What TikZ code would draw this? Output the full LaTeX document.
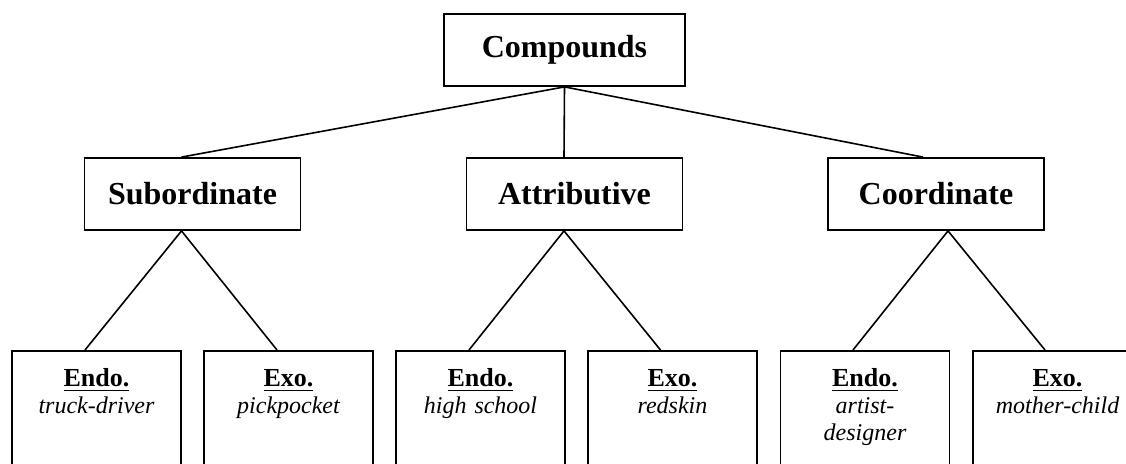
\documentclass[tikz,border=0pt]{standalone}
\usepackage{fontspec}
\setmainfont{Liberation Serif}
\usepackage{tikz}
\tikzstyle{topbox} = [rectangle, minimum width=120.5pt, minimum height=36pt, text centered,
draw=black, line width=0.9pt, font=\fontsize{16}{19}\selectfont\bfseries]
\tikzstyle{midbox} = [rectangle, minimum width=108pt, minimum height=36pt, text centered,
draw=black, line width=0.9pt, font=\fontsize{16}{19}\selectfont\bfseries]
\tikzstyle{leaf} = [rectangle, anchor=north, text width=80pt, inner xsep=2.25pt, inner ysep=0pt,
text height=18pt, text depth=60pt, align=center, draw=black, line width=0.9pt,
font=\fontsize{12}{13.5}\selectfont\itshape]
\tikzstyle{branch} = [line width=0.8pt]
\newcommand{\kind}[1]{\textbf{\upshape\fontsize{13}{13.5}\selectfont\underline{#1}}}

\begin{document}
\begin{tikzpicture}[x=0.5pt, y=-0.5pt]
        \useasboundingbox (0,0) rectangle (1126,464);
        \clip (0,0) rectangle (1126,464);

        \draw (564.5,50) node[topbox] (comp) {Compounds};

        \draw (192.5,194) node[midbox] (sub) {Subordinate};
        \draw (574.5,194) node[midbox] (attr) {Attributive};
        \draw (936,194) node[midbox] (coord) {Coordinate};

        \draw (96.5,350) node[leaf] (subendo) {\kind{Endo.}\\truck-driver};
        \draw (288.5,350) node[leaf] (subexo) {\kind{Exo.}\\pickpocket};
        \draw (480.5,350) node[leaf] (attrendo) {\kind{Endo.}\\high school};
        \draw (672.5,350) node[leaf] (attrexo) {\kind{Exo.}\\redskin};
        \draw (865,350) node[leaf] (coordendo) {\kind{Endo.}\\artist-\\designer};
        \draw (1057.5,350) node[leaf] (coordexo) {\kind{Exo.}\\mother-child};

        % Lines
        \draw[branch] (comp.south) -- ([xshift=-5.5pt]sub.north);
        \draw[branch] (comp.south) -- ([xshift=-5.25pt]attr.north);
        \draw[branch] (comp.south) -- ([xshift=-6.5pt]coord.north);

        \draw[branch] ([xshift=-5.75pt]subendo.north) -- ([xshift=-5.5pt]sub.south) -- ([xshift=-5.75pt]subexo.north);
        \draw[branch] ([xshift=-5.75pt]attrendo.north) -- ([xshift=-5.25pt]attr.south) -- ([xshift=-6pt]attrexo.north);
        \draw[branch] ([xshift=-6pt]coordendo.north) -- ([xshift=6pt]coord.south) -- ([xshift=-6.25pt]coordexo.north);
    \end{tikzpicture}
\end{document}
